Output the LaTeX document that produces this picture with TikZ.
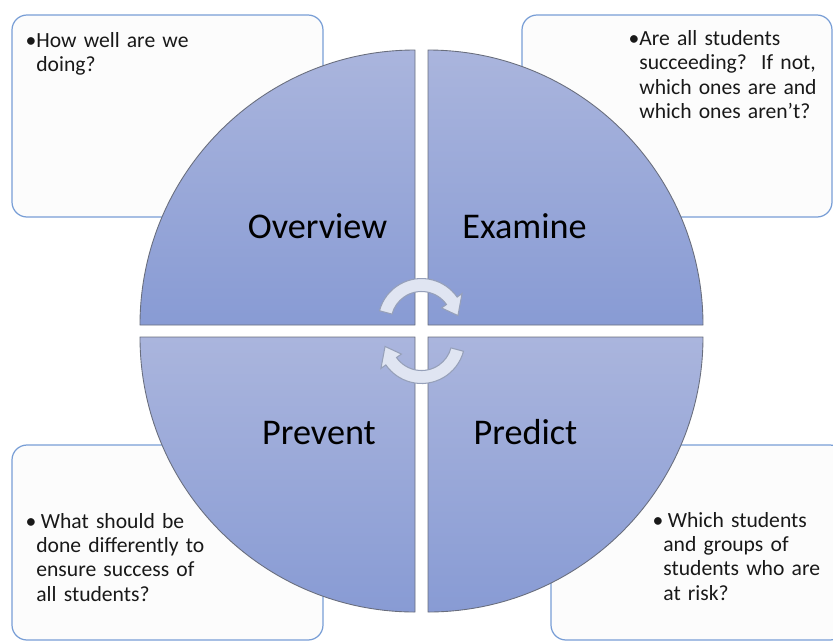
\documentclass[tikz,border=0pt]{standalone}
\usepackage{fontspec}
\setmainfont{Carlito}
\usetikzlibrary{shapes}
\definecolor{qtop}{RGB}{170,181,221}
\definecolor{qbot}{RGB}{136,155,212}
\definecolor{qline}{RGB}{105,110,125}
\definecolor{boxline}{RGB}{120,158,214}
\definecolor{boxfill}{RGB}{252,252,252}
\definecolor{arrowfill}{RGB}{224,229,242}
\definecolor{arrowline}{RGB}{150,160,185}
\definecolor{notetext}{RGB}{25,25,25}
\tikzstyle{Q} = [top color=qtop,bottom color=qbot,draw=qline,line width=0.5pt]
\tikzstyle{B} = [draw=boxline,fill=boxfill,rounded corners=0.3cm,line width=0.7pt]
\tikzstyle{T} = [anchor=base,inner sep=0pt,font=\fontsize{20.6}{24}\selectfont]
\tikzstyle{N} = [anchor=base west,inner sep=0pt,text width=4.2cm,align=left,text=notetext,font=\fontsize{12.3}{13.9}\selectfont]
\tikzstyle{R} = [fill=arrowfill,draw=arrowline,line width=0.6pt]
\newcommand{\bl}{\llap{\textbullet}}

\begin{document}
\begin{tikzpicture}
	\useasboundingbox (-8.43,-6.24) rectangle (8.23,6.62);
	\clip (-8.43,-6.24) rectangle (8.23,6.62);
	%%%%%%%%%%%%%%% boxes
	\draw [B] (-8.19,6.32) rectangle (-1.97,2.28);
	\draw [B] (2.01,6.32) rectangle (8.21,2.28);
	\draw [B] (-8.19,-2.28) rectangle (-1.97,-6.18);
	\draw [B] (2.59,-2.28) rectangle (8.47,-6.18);
	%%%%%%%%%%%%%%% quadrants
	\shadedraw [Q] (-0.13,0.12) -- ++(-5.5,0) arc [start angle=180,end angle=90,radius=5.5] -- cycle;
	\shadedraw [Q] (0.13,0.12) -- ++(0,5.5) arc [start angle=90,end angle=0,radius=5.5] -- cycle;
	\shadedraw [Q] (-0.13,-0.12) -- ++(-5.5,0) arc [start angle=180,end angle=270,radius=5.5] -- cycle;
	\shadedraw [Q] (0.13,-0.12) -- ++(0,-5.5) arc [start angle=270,end angle=360,radius=5.5] -- cycle;
	%%%%%%%%%%%%%%% cycle arrows
	\begin{scope}[shift={(0,0.18)}]
		\draw [R] (165:0.87) arc [start angle=165,end angle=35,radius=0.87] -- (35:0.99) -- (10:0.74) -- (35:0.49) -- (35:0.61) arc [start angle=35,end angle=165,radius=0.61] -- cycle;
	\end{scope}
	\begin{scope}[rotate=180,shift={(0,0.18)}]
		\draw [R] (165:0.87) arc [start angle=165,end angle=35,radius=0.87] -- (35:0.99) -- (10:0.74) -- (35:0.49) -- (35:0.61) arc [start angle=35,end angle=165,radius=0.61] -- cycle;
	\end{scope}
	%%%%%%%%%%%%%%% titles
	\node [T] (ov) at (-2.08,1.86) {Overview};
	\node [T] (ex) at (2.06,1.86) {Examine};
	\node [T] (pv) at (-2.05,-2.26) {Prevent};
	\node [T] (pd) at (2.08,-2.26) {Predict};
	%%%%%%%%%%%%%%% notes
	\node [N] (n1) at (-7.71,5.67) {\bl How well are we\\doing?};
	\node [N] (n2) at (4.35,5.71) {\bl Are all students\\succeeding?\ \ If not,\\which ones are and\\which ones aren't?};
	\node [N] (n3) at (-7.71,-3.94) {\bl\hspace{0.09cm}What should be\\done differently to\\ensure success of\\all students?};
	\node [N] (n4) at (4.83,-3.92) {\bl\hspace{0.09cm}Which students\\and groups of\\students who are\\at risk?};
\end{tikzpicture}
\end{document}
